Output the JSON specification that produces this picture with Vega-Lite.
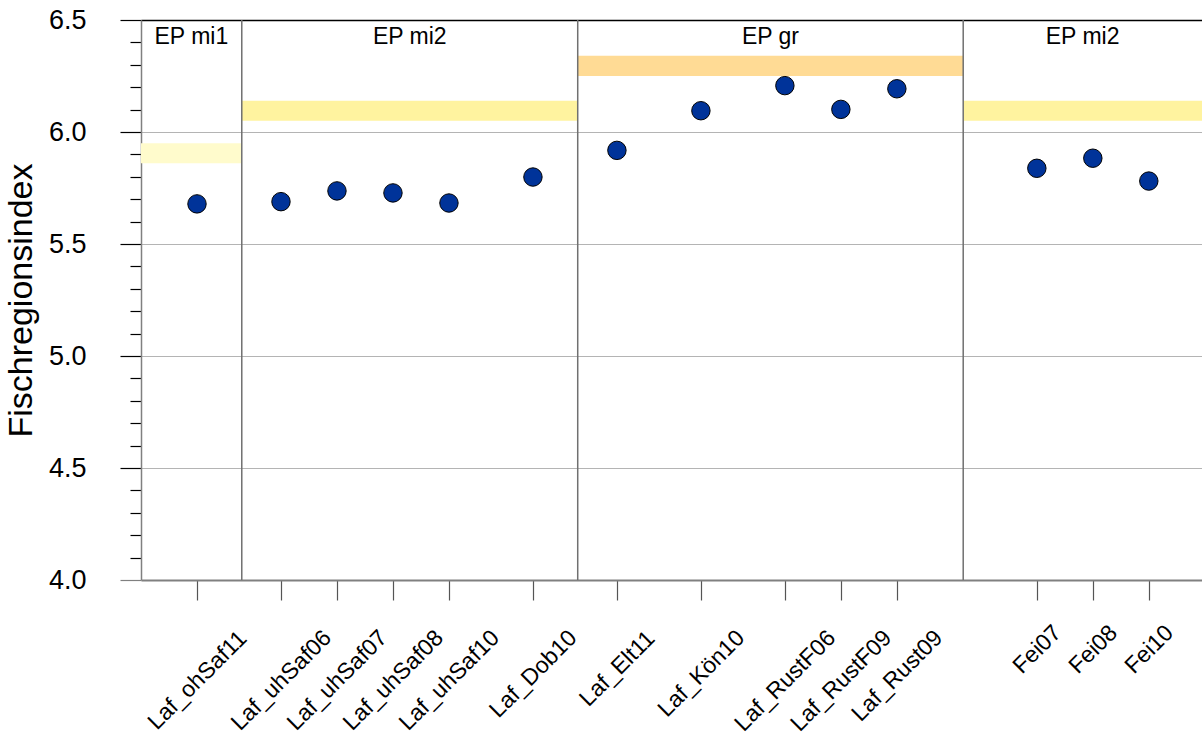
{
  "$schema": "https://vega.github.io/schema/vega-lite/v6.json",
  "width": 1061,
  "height": 560,
  "autosize": "none",
  "padding": {"left": 141, "top": 20, "right": 0, "bottom": 158},
  "config": {
    "view": {"stroke": null},
    "font": "Liberation Sans",
    "axis": {"labelFont": "Liberation Sans", "titleFont": "Liberation Sans"}
  },
  "datasets": {
    "points": [
      {"site": "Laf_ohSaf11", "x": 2, "fri": 5.679},
      {"site": "Laf_uhSaf06", "x": 5, "fri": 5.689},
      {"site": "Laf_uhSaf07", "x": 7, "fri": 5.737},
      {"site": "Laf_uhSaf08", "x": 9, "fri": 5.728},
      {"site": "Laf_uhSaf10", "x": 11, "fri": 5.683},
      {"site": "Laf_Dob10", "x": 14, "fri": 5.799},
      {"site": "Laf_Elt11", "x": 17, "fri": 5.918},
      {"site": "Laf_Kön10", "x": 20, "fri": 6.095},
      {"site": "Laf_RustF06", "x": 23, "fri": 6.207},
      {"site": "Laf_RustF09", "x": 25, "fri": 6.101},
      {"site": "Laf_Rust09", "x": 27, "fri": 6.193},
      {"site": "Fei07", "x": 32, "fri": 5.838},
      {"site": "Fei08", "x": 34, "fri": 5.883},
      {"site": "Fei10", "x": 36, "fri": 5.781}
    ],
    "zones": [
      {"zone": "EP mi1", "kind": "mi1", "x0": 0, "x1": 3.6, "lo": 5.86, "hi": 5.95},
      {"zone": "EP mi2", "kind": "mi2", "x0": 3.6, "x1": 15.6, "lo": 6.05, "hi": 6.14},
      {"zone": "EP gr", "kind": "gr", "x0": 15.6, "x1": 29.37, "lo": 6.25, "hi": 6.34},
      {"zone": "EP mi2", "kind": "mi2", "x0": 29.37, "x1": 37.9, "lo": 6.05, "hi": 6.14}
    ],
    "dividers": [{"x": 3.6}, {"x": 15.6}, {"x": 29.37}]
  },
  "layer": [
    {
      "data": {"name": "zones"},
      "mark": {"type": "rect"},
      "encoding": {
        "x": {
          "field": "x0",
          "type": "quantitative",
          "title": null,
          "scale": {"domain": [0, 37.9], "nice": false, "zero": false},
          "axis": {
            "title": null,
            "values": [2, 5, 7, 9, 11, 14, 17, 20, 23, 25, 27, 32, 34, 36],
            "tickCount": 40,
            "labelExpr": "['Laf_ohSaf11','Laf_uhSaf06','Laf_uhSaf07','Laf_uhSaf08','Laf_uhSaf10','Laf_Dob10','Laf_Elt11','Laf_Kön10','Laf_RustF06','Laf_RustF09','Laf_Rust09','Fei07','Fei08','Fei10'][indexof([2,5,7,9,11,14,17,20,23,25,27,32,34,36], datum.value)]",
            "labelAngle": -45,
            "labelAlign": "center",
            "labelBaseline": "middle",
            "labelFontSize": 23,
            "labelColor": "black",
            "labelPadding": {"expr": "[79.9,79.9,79.9,79.9,79.9,73.6,68.2,73.2,80.4,80.4,75.4,49,49,49][indexof([2,5,7,9,11,14,17,20,23,25,27,32,34,36], datum.value)]"},
            "tickSize": 20,
            "tickColor": "#555555",
            "tickWidth": 1.2,
            "domainColor": "#808080",
            "domainWidth": 2,
            "grid": false,
            "labelOverlap": false,
            "labelFlush": false,
            "labelBound": false
          }
        },
        "x2": {"field": "x1"},
        "y": {
          "field": "lo",
          "type": "quantitative",
          "title": "Fischregionsindex",
          "scale": {"domain": [4, 6.5], "nice": false, "zero": false},
          "axis": {
            "title": "Fischregionsindex",
            "titleFontSize": 34,
            "titleFontWeight": "normal",
            "titleColor": "black",
            "titlePadding": 10,
            "values": [4, 4.1, 4.2, 4.3, 4.4, 4.5, 4.6, 4.7, 4.8, 4.9, 5, 5.1, 5.2, 5.3, 5.4, 5.5, 5.6, 5.7, 5.8, 5.9, 6, 6.1, 6.2, 6.3, 6.4, 6.5],
            "tickCount": 40,
            "labelExpr": "round(datum.value*10) % 5 == 0 ? format(datum.value, '.1f') : ''",
            "labelFontSize": 27,
            "labelColor": "black",
            "labelPadding": 34,
            "tickSize": {"condition": {"test": "round(datum.value*10) % 5 == 0", "value": 21}, "value": 11},
            "tickColor": {"condition": {"test": "datum.value < 4.05", "value": "#808080"}, "value": "black"},
            "tickWidth": 1.2,
            "domainColor": "#808080",
            "domainWidth": 1.5,
            "grid": true,
            "gridColor": {"condition": {"test": "datum.value > 6.45", "value": "black"}, "value": "#b4b4b4"},
            "gridOpacity": {"condition": {"test": "round(datum.value*10) % 5 == 0 && datum.value > 4.05", "value": 1}, "value": 0},
            "gridWidth": {"condition": {"test": "datum.value > 6.45", "value": 1.5}, "value": 1},
            "labelOverlap": false,
            "labelFlush": false,
            "labelBound": false
          }
        },
        "y2": {"field": "hi"},
        "color": {
          "field": "kind",
          "type": "nominal",
          "scale": {"domain": ["mi1", "mi2", "gr"], "range": ["#FFFBCC", "#FFF39F", "#FFDB95"]},
          "legend": null
        }
      }
    },
    {
      "data": {"name": "dividers"},
      "mark": {"type": "rule", "color": "#707070", "strokeWidth": 1.5},
      "encoding": {
        "x": {"field": "x", "type": "quantitative", "title": null}
      }
    },
    {
      "data": {"name": "points"},
      "mark": {"type": "circle", "size": 340, "fill": "#003399", "stroke": "black", "strokeWidth": 1, "opacity": 1},
      "encoding": {
        "x": {"field": "x", "type": "quantitative", "title": null},
        "y": {"field": "fri", "type": "quantitative", "title": "Fischregionsindex"}
      }
    },
    {
      "data": {"name": "zones"},
      "transform": [
        {"calculate": "(datum.x0 + datum.x1) / 2", "as": "mid"},
        {"calculate": "6.426", "as": "ly"}
      ],
      "mark": {"type": "text", "fontSize": 23, "color": "black", "baseline": "middle", "align": "center", "font": "Liberation Sans"},
      "encoding": {
        "x": {"field": "mid", "type": "quantitative", "title": null},
        "y": {"field": "ly", "type": "quantitative", "title": "Fischregionsindex"},
        "text": {"field": "zone", "type": "nominal"}
      }
    }
  ]
}
